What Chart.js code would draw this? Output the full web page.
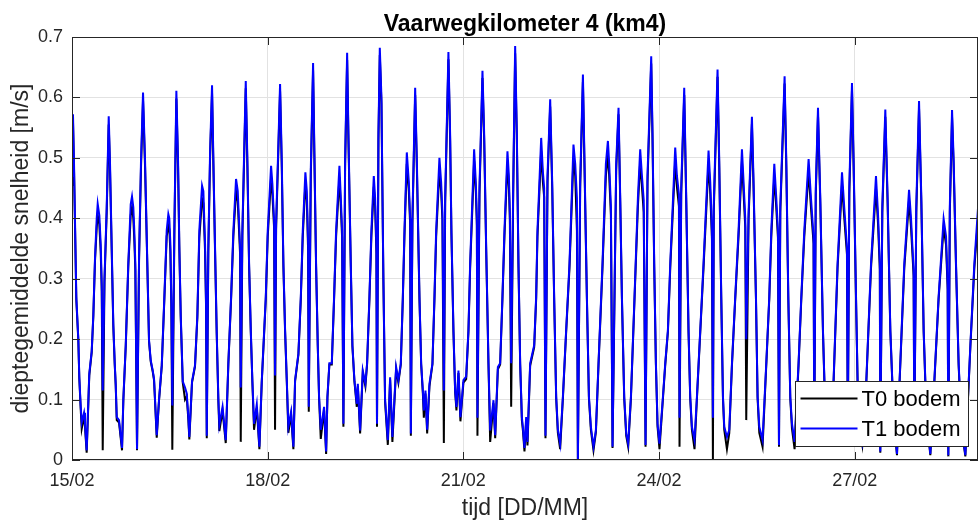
<!DOCTYPE html>
<html>
<head>
<meta charset="utf-8">
<title>Vaarwegkilometer 4 (km4)</title>
<script src="https://cdn.jsdelivr.net/npm/chart.js@4.4.0/dist/chart.umd.min.js"></script>
<style>
    html, body { margin: 0; padding: 0; background: #ffffff; }
    #wrap { width: 980px; height: 522px; }
</style>
</head>
<body>
<div id="wrap"><canvas id="speedChart" width="980" height="522"></canvas></div>
<script>
// Time in days since 15/02 00:00
const times = [
    0.000,0.015,0.031,0.066,0.097,0.112,0.133,0.149,0.184,0.199,
    0.225,0.265,0.302,0.327,0.353,0.379,0.394,0.419,0.440,0.456,
    0.471,0.498,0.532,0.563,0.583,0.609,0.633,0.655,0.670,0.686,
    0.721,0.767,0.787,0.824,0.863,0.900,0.920,0.940,0.955,0.971,
    0.997,1.028,1.058,1.089,1.120,1.155,1.181,1.207,1.238,1.258,
    1.299,1.334,1.376,1.416,1.452,1.477,1.492,1.508,1.523,1.538,
    1.569,1.600,1.626,1.646,1.667,1.698,1.733,1.759,1.784,1.799,
    1.840,1.886,1.922,1.952,1.994,2.014,2.040,2.055,2.066,2.090,
    2.117,2.147,2.167,2.193,2.219,2.244,2.259,2.308,2.357,2.397,
    2.439,2.474,2.515,2.541,2.577,2.587,2.612,2.664,2.689,2.715,
    2.741,2.765,2.791,2.833,2.873,2.909,2.971,3.001,3.052,3.072,
    3.098,3.113,3.129,3.190,3.216,3.241,3.267,3.293,3.317,3.359,
    3.394,3.420,3.471,3.508,3.538,3.578,3.600,3.620,3.630,3.661,
    3.696,3.716,3.742,3.768,3.788,3.814,3.865,3.896,3.916,3.946,
    3.983,4.018,4.049,4.100,4.121,4.141,4.161,4.187,4.218,4.238,
    4.274,4.299,4.330,4.366,4.382,4.417,4.458,4.498,4.524,4.560,
    4.590,4.627,4.647,4.667,4.676,4.698,4.719,4.744,4.774,4.800,
    4.842,4.877,4.912,4.969,5.004,5.041,5.072,5.097,5.133,5.164,
    5.184,5.195,5.219,5.261,5.287,5.327,5.353,5.379,5.394,5.419,
    5.445,5.480,5.526,5.557,5.583,5.633,5.659,5.679,5.701,5.721,
    5.771,5.797,5.817,5.848,5.874,5.894,5.925,5.955,6.001,6.043,
    6.078,6.104,6.165,6.192,6.207,6.216,6.247,6.293,6.319,6.350,
    6.385,6.411,6.462,6.488,6.529,6.564,6.599,6.630,6.676,6.698,
    6.713,6.733,6.764,6.794,6.820,6.845,6.871,6.897,6.912,6.937,
    6.963,6.983,7.024,7.086,7.116,7.136,7.193,7.219,7.239,7.259,
    7.290,7.331,7.362,7.392,7.423,7.449,7.484,7.526,7.576,7.627,
    7.688,7.715,7.741,7.756,7.791,7.833,7.857,7.894,7.925,7.955,
    7.995,8.032,8.072,8.133,8.185,8.216,8.236,8.262,8.287,8.343,
    8.379,8.405,8.431,8.466,8.497,8.527,8.569,8.624,8.676,8.711,
    8.738,8.765,8.793,8.823,8.880,8.900,8.926,8.952,8.977,9.007,
    9.060,9.095,9.136,9.172,9.248,9.274,9.305,9.314,9.340,9.386,
    9.417,9.452,9.478,9.504,9.544,9.581,9.632,9.682,9.759,9.785,
    9.811,9.826,9.839,9.897,9.923,9.954,9.980,10.000,10.041,10.077,
    10.118,10.168,10.219,10.271,10.296,10.322,10.337,10.373,10.424,10.449,
    10.486,10.511,10.537,10.587,10.644,10.690,10.721,10.767,10.797,10.823,
    10.839,10.859,10.925,10.951,10.982,11.012,11.038,11.078,11.139,11.181,
    11.227,11.293,11.329,11.369,11.380,11.403,11.437,11.472,11.513,11.549,
    11.595,11.676,11.737,11.805,11.840,11.881,11.894,11.917,11.958,11.983,
    12.020,12.044,12.070,12.116,12.178,12.250,12.326,12.357,12.385,12.392,
    12.423,12.469,12.504,12.546,12.576,12.607,12.648,12.688,12.760,12.833,
    12.863,12.903,12.914,12.944,12.986,13.021,13.057,13.098,13.159,13.221,
    13.286,13.363,13.400,13.425,13.435,13.458,13.492,13.517,13.553,13.593,
    13.635,13.696,13.773,13.834,13.891,13.957
];

// T1 bodem [m/s]
const t1Bodem = [
    .470,.572,.490,.270,.200,.137,.090,.062,.078,.060,
    .016,.143,.180,.240,.335,.400,.424,.405,.358,.290,
    .115,.300,.418,.569,.490,.352,.226,.160,.126,.071,
    .066,.020,.100,.190,.325,.423,.436,.418,.380,.325,
    .018,.335,.495,.608,.495,.325,.198,.165,.148,.134,
    .041,.100,.157,.270,.380,.407,.400,.358,.260,.090,
    .380,.611,.495,.352,.240,.130,.120,.110,.071,.038,
    .130,.157,.240,.380,.454,.445,.358,.260,.040,.350,
    .510,.620,.500,.352,.210,.100,.058,.088,.033,.160,
    .270,.380,.465,.445,.352,.120,.380,.627,.495,.325,
    .215,.132,.060,.092,.022,.130,.270,.380,.487,.457,
    .397,.140,.390,.622,.495,.325,.215,.132,.055,.080,
    .022,.132,.176,.270,.380,.476,.445,.358,.088,.480,
    .657,.510,.325,.190,.105,.050,.088,.014,.105,.160,
    .160,.270,.380,.487,.434,.380,.060,.495,.674,.540,
    .325,.190,.132,.093,.126,.049,.148,.126,.160,.270,
    .380,.470,.434,.352,.060,.540,.682,.600,.300,.100,
    .033,.137,.038,.154,.132,.160,.270,.380,.509,.460,
    .400,.044,.400,.616,.495,.270,.160,.115,.082,.115,
    .050,.126,.160,.270,.380,.500,.460,.410,.115,.434,
    .675,.540,.380,.215,.115,.088,.148,.071,.132,.138,
    .215,.325,.514,.457,.400,.070,.450,.644,.540,.352,
    .160,.049,.099,.041,.154,.160,.270,.380,.511,.470,
    .410,.160,.450,.685,.540,.325,.160,.071,.055,.020,
    .071,.030,.160,.190,.270,.380,.533,.477,.450,.040,
    .470,.597,.460,.270,.105,.050,.027,.105,.215,.325,
    .522,.490,.434,.000,.460,.638,.495,.270,.105,.055,
    .022,.050,.160,.325,.490,.528,.490,.420,.022,.490,
    .583,.434,.270,.105,.044,.027,.105,.270,.434,.514,
    .470,.430,.025,.470,.668,.540,.325,.160,.060,.027,
    .105,.160,.215,.325,.517,.470,.440,.070,.450,.616,
    .434,.215,.105,.055,.033,.105,.215,.325,.512,.460,
    .380,.070,.423,.646,.495,.270,.105,.055,.038,.050,
    .160,.270,.380,.514,.460,.400,.200,.410,.568,.460,
    .270,.105,.055,.033,.160,.270,.380,.490,.434,.380,
    .025,.420,.635,.495,.270,.105,.060,.030,.160,.270,
    .380,.498,.434,.370,.050,.450,.583,.434,.215,.080,
    .030,.132,.325,.476,.417,.352,.050,.450,.624,.495,
    .270,.132,.060,.030,.132,.325,.470,.407,.325,.014,
    .420,.580,.434,.215,.132,.060,.010,.132,.325,.447,
    .400,.314,.040,.420,.594,.434,.215,.080,.010,.132,
    .270,.399,.370,.290,.008,.420,.579,.495,.325,.160,
    .060,.008,.190,.325,.418,.360
];

// T0 bodem [m/s]
const t0Bodem = [
    .455,.560,.480,.265,.198,.135,.085,.052,.072,.055,
    .012,.140,.178,.238,.330,.385,.405,.390,.345,.280,
    .016,.295,.410,.555,.480,.345,.222,.158,.124,.066,
    .062,.016,.098,.188,.320,.405,.418,.400,.365,.315,
    .016,.330,.485,.595,.485,.320,.196,.163,.146,.132,
    .037,.098,.155,.266,.370,.388,.382,.345,.255,.017,
    .372,.598,.485,.346,.236,.128,.100,.105,.066,.034,
    .128,.155,.236,.368,.432,.425,.345,.255,.036,.345,
    .500,.607,.490,.346,.207,.097,.048,.082,.028,.158,
    .266,.370,.445,.428,.340,.030,.372,.615,.485,.320,
    .212,.130,.050,.086,.018,.128,.266,.370,.468,.440,
    .385,.050,.382,.610,.485,.320,.212,.130,.045,.075,
    .018,.130,.174,.266,.370,.458,.430,.346,.080,.470,
    .645,.500,.320,.188,.102,.035,.082,.010,.103,.158,
    .158,.266,.370,.468,.420,.368,.055,.485,.662,.530,
    .320,.188,.130,.088,.122,.044,.145,.122,.158,.266,
    .370,.452,.420,.342,.055,.530,.670,.590,.296,.096,
    .025,.133,.030,.150,.128,.158,.266,.370,.490,.445,
    .390,.040,.392,.604,.485,.266,.158,.110,.070,.110,
    .044,.122,.158,.266,.370,.480,.444,.398,.028,.425,
    .663,.530,.374,.212,.112,.082,.144,.064,.128,.134,
    .212,.318,.495,.442,.388,.040,.440,.632,.530,.346,
    .158,.030,.094,.036,.150,.158,.266,.370,.492,.452,
    .398,.088,.440,.673,.530,.320,.158,.066,.050,.014,
    .064,.024,.156,.187,.266,.370,.512,.460,.435,.036,
    .460,.585,.450,.266,.102,.045,.018,.102,.212,.318,
    .500,.470,.380,.000,.450,.626,.485,.266,.102,.050,
    .016,.046,.157,.318,.470,.506,.470,.405,.020,.480,
    .572,.426,.266,.102,.040,.022,.102,.266,.420,.494,
    .452,.410,.022,.460,.656,.530,.320,.157,.055,.018,
    .102,.157,.212,.318,.496,.452,.420,.022,.440,.604,
    .426,.212,.102,.050,.018,.102,.212,.318,.492,.442,
    .366,.000,.412,.634,.485,.266,.102,.050,.018,.045,
    .157,.266,.370,.494,.442,.385,.066,.400,.556,.450,
    .266,.102,.045,.022,.157,.266,.370,.470,.418,.368,
    .022,.410,.623,.485,.266,.102,.052,.018,.157,.266,
    .370,.478,.418,.358,.045,.440,.571,.426,.212,.076,
    .025,.129,.318,.456,.400,.340,.045,.440,.612,.485,
    .266,.129,.055,.025,.129,.318,.450,.392,.315,.012,
    .410,.568,.426,.212,.129,.055,.008,.129,.318,.430,
    .385,.304,.036,.410,.582,.426,.212,.076,.008,.129,
    .266,.385,.356,.282,.006,.410,.567,.485,.320,.157,
    .055,.006,.187,.318,.400,.350
];

// Axis ticks
const xTickDays = [0, 3, 6, 9, 12];
const xTickLabels = ['15/02', '18/02', '21/02', '24/02', '27/02'];
const yTicks = [0, 0.1, 0.2, 0.3, 0.4, 0.5, 0.6, 0.7];
const yTickLabels = ['0', '0.1', '0.2', '0.3', '0.4', '0.5', '0.6', '0.7'];
const xMaxDays = 13.89;

const FONT = '"Liberation Sans", Arial, Helvetica, sans-serif';
const AXIS_COLOR = '#262626';

Chart.defaults.font.family = FONT;
Chart.defaults.color = AXIS_COLOR;

function toPoints(values) {
    return times.map((t, i) => ({ x: t, y: values[i] }));
}

// Matlab style box: border, inward ticks and a legend in the lower right corner
const axesBox = {
    id: 'axesBox',
    afterDraw(chart) {
        const { ctx, chartArea: a, scales } = chart;
        const len = 8;
        ctx.save();
        ctx.strokeStyle = AXIS_COLOR;
        ctx.lineWidth = 1;
        ctx.beginPath();
        xTickDays.forEach(v => {
            const px = Math.round(scales.x.getPixelForValue(v)) + 0.5;
            ctx.moveTo(px, a.bottom); ctx.lineTo(px, a.bottom - len);
            ctx.moveTo(px, a.top); ctx.lineTo(px, a.top + len);
        });
        yTicks.forEach(v => {
            const py = Math.round(scales.y.getPixelForValue(v)) + 0.5;
            ctx.moveTo(a.left, py); ctx.lineTo(a.left + len, py);
            ctx.moveTo(a.right, py); ctx.lineTo(a.right - len, py);
        });
        ctx.stroke();
        ctx.strokeRect(a.left + 0.5, a.top + 0.5, a.width - 1, a.height - 1);

        // legend
        const w = 173, h = 65;
        const bx = Math.round(a.right - 10 - w) + 0.5;
        const by = Math.round(a.bottom - 14 - h) + 0.5;
        ctx.fillStyle = '#ffffff';
        ctx.fillRect(bx, by, w, h);
        ctx.strokeStyle = AXIS_COLOR;
        ctx.strokeRect(bx, by, w, h);
        ctx.font = '22px ' + FONT;
        ctx.textBaseline = 'middle';
        ctx.textAlign = 'left';
        const order = [0, 1];
        order.forEach((di, row) => {
            const ds = chart.data.datasets[di];
            const y = by + 17 + row * 30;
            ctx.strokeStyle = ds.borderColor;
            ctx.lineWidth = 2;
            ctx.beginPath();
            ctx.moveTo(bx + 5, y);
            ctx.lineTo(bx + 62, y);
            ctx.stroke();
            ctx.fillStyle = '#000000';
            ctx.fillText(ds.label, bx + 66, y + 1);
        });
        ctx.restore();
    }
};

new Chart(document.getElementById('speedChart'), {
    type: 'line',
    data: {
        datasets: [{
            label: 'T0 bodem',
            data: toPoints(t0Bodem),
            borderColor: '#000000',
            borderWidth: 2,
            order: 1
        }, {
            label: 'T1 bodem',
            data: toPoints(t1Bodem),
            borderColor: '#0000ff',
            borderWidth: 2,
            order: 0
        }]
    },
    options: {
        responsive: false,
        animation: false,
        layout: { padding: { left: 0, right: 2, top: 0, bottom: 0 } },
        elements: {
            point: { radius: 0 },
            line: { tension: 0 }
        },
        plugins: {
            legend: { display: false },
            tooltip: { enabled: false },
            title: {
                display: true,
                text: 'Vaarwegkilometer 4 (km4)',
                fullSize: false,
                color: '#000000',
                font: { size: 23, weight: 'bold', lineHeight: 1 },
                padding: { top: 13, bottom: 1 }
            }
        },
        scales: {
            x: {
                type: 'linear',
                min: 0,
                max: xMaxDays,
                afterBuildTicks: s => { s.ticks = xTickDays.map(v => ({ value: v })); },
                afterFit: s => { s.height = 62; },
                ticks: {
                    callback: v => xTickLabels[xTickDays.indexOf(v)],
                    font: { size: 18 },
                    padding: 10,
                    maxRotation: 0,
                    autoSkip: false,
                    color: AXIS_COLOR
                },
                grid: { color: '#e2e2e2', drawTicks: false },
                border: { display: false },
                title: {
                    display: true,
                    text: 'tijd [DD/MM]',
                    color: AXIS_COLOR,
                    font: { size: 23, lineHeight: 1 },
                    padding: { top: 0, bottom: 2 }
                }
            },
            y: {
                min: 0,
                max: 0.7,
                afterBuildTicks: s => { s.ticks = yTicks.map(v => ({ value: v })); },
                afterFit: s => { s.width = 72; },
                ticks: {
                    callback: v => yTickLabels[yTicks.indexOf(v)],
                    font: { size: 18 },
                    padding: 9,
                    autoSkip: false,
                    color: AXIS_COLOR
                },
                grid: { color: '#e2e2e2', drawTicks: false },
                border: { display: false },
                title: {
                    display: true,
                    text: 'dieptegemiddelde snelheid [m/s]',
                    color: AXIS_COLOR,
                    font: { size: 23, lineHeight: 1 },
                    padding: { top: 10, bottom: 0 }
                }
            }
        }
    },
    plugins: [axesBox]
});
</script>
</body>
</html>
